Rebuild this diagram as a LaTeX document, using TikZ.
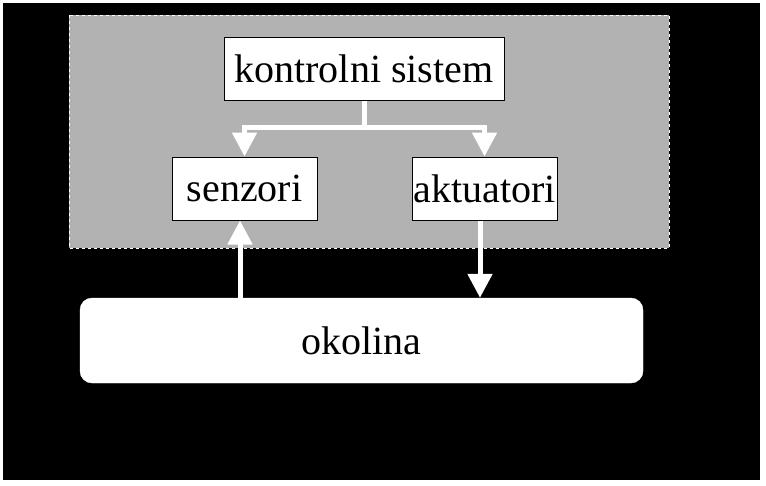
\documentclass[tikz,border=0pt]{standalone}
\usepackage{fontspec}
\setmainfont{Liberation Serif}
\usetikzlibrary{arrows.meta}
\definecolor{panelgray}{RGB}{178,178,178}
\begin{document}
\begin{tikzpicture}[x=1pt,y=-1pt,
  box/.style={draw=black, line width=1pt, fill=white, inner sep=0pt,
    minimum height=63pt, font=\fontsize{40}{48}\selectfont},
  conn/.style={draw=white, line width=5pt, -{Triangle[length=24pt,width=24pt]}},
  wire/.style={draw=white, line width=5pt}]
\useasboundingbox (0,0) rectangle (766,485);
\fill[white] (0,0) rectangle (766,485);
\fill[black] (3,3) rectangle (760,480);
\draw[white, fill=panelgray, dashed, line width=1pt] (69,15) rectangle (669,248);
\node[box, minimum width=280pt] (ks) at (364,68.5) {kontrolni sistem};
\node[box, minimum width=145pt] (sen) at (244.5,188.5) {senzori};
\node[box, minimum width=145pt] (akt) at (484.5,188.5) {aktuatori};
\node[fill=white, draw=white, rounded corners=12pt, minimum width=563pt, minimum height=85pt,
  inner sep=0pt, font=\fontsize{40}{48}\selectfont] (ok) at (361.5,340.5) {okolina};
\coordinate (u) at (240,0);
\coordinate (d) at (480,0);
\draw[wire] (ks.south) -- ++(0,27) coordinate (j);
\draw[conn] (j) -| (sen.north);
\draw[conn] (j) -| (akt.north);
\draw[conn] (ok.north -| u) -- (sen.south -| u);
\draw[conn] (akt.south -| d) -- (ok.north -| d);
\end{tikzpicture}
\end{document}
